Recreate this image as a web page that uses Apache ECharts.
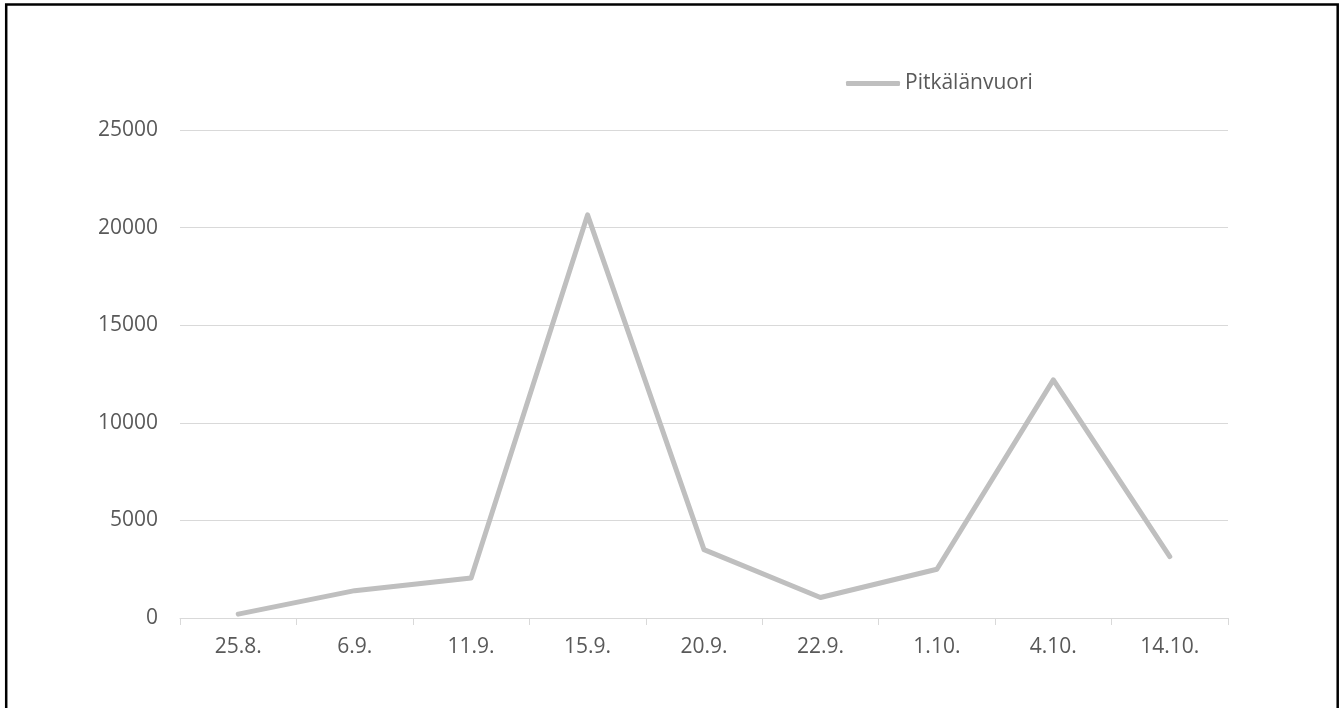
<!DOCTYPE html>
<html>
<head>
<meta charset="utf-8">
<title>Pitkälänvuori</title>
<script src="https://cdn.jsdelivr.net/npm/echarts@6/dist/echarts.min.js"></script>
<style>
  html, body { margin: 0; padding: 0; background: #ffffff; }
  #chart { width: 1343px; height: 708px; }
</style>
</head>
<body>
<div id="chart"></div>
<script>
// Observation dates and counts
const dates = ['25.8.', '6.9.', '11.9.', '15.9.', '20.9.', '22.9.', '1.10.', '4.10.', '14.10.'];
const pitkalanvuori = [200, 1400, 2050, 20650, 3500, 1050, 2500, 12200, 3150];
const seriesName = 'Pitkälänvuori';

const textColor = '#595959';
const gridColor = '#D9D9D9';
const lineColor = '#BFBFBF';
const font = '"Open Sans", "Noto Sans", sans-serif';
const fontSize = 21;

const chart = echarts.init(document.getElementById('chart'), null, { renderer: 'canvas' });

chart.setOption({
  backgroundColor: '#ffffff',
  animation: false,
  graphic: [{
    type: 'rect',
    shape: { x: 6.2, y: 4.5, width: 1331.5, height: 720 },
    style: { fill: 'none', stroke: '#000000', lineWidth: 2.5 },
    silent: true
  }],
  legend: {
    data: [seriesName],
    left: 846,
    top: 73,
    padding: 0,
    itemWidth: 54,
    itemHeight: 5,
    itemGap: 10,
    icon: 'roundRect',
    textStyle: { color: textColor, fontFamily: font, fontSize: fontSize, padding: [0, 0, 0, 0] }
  },
  grid: { left: 180, right: 115, top: 130, bottom: 90, containLabel: false },
  xAxis: {
    type: 'category',
    data: dates,
    boundaryGap: true,
    axisLine: { show: true, lineStyle: { color: gridColor, width: 1 } },
    axisTick: { show: true, length: 7, lineStyle: { color: gridColor } },
    axisLabel: { color: textColor, fontFamily: font, fontSize: fontSize, margin: 19 },
    splitLine: { show: false }
  },
  yAxis: {
    type: 'value',
    min: 0,
    max: 25000,
    interval: 5000,
    axisLine: { show: false },
    axisTick: { show: false },
    axisLabel: {
      color: textColor, fontFamily: font, fontSize: fontSize, margin: 22,
      formatter: (v) => String(v)
    },
    splitLine: { show: true, lineStyle: { color: gridColor, width: 1 } }
  },
  series: [{
    name: seriesName,
    type: 'line',
    data: pitkalanvuori,
    symbol: 'none',
    smooth: false,
    itemStyle: { color: lineColor },
    lineStyle: { color: lineColor, width: 5, cap: 'round', join: 'round' }
  }]
});
</script>
</body>
</html>
